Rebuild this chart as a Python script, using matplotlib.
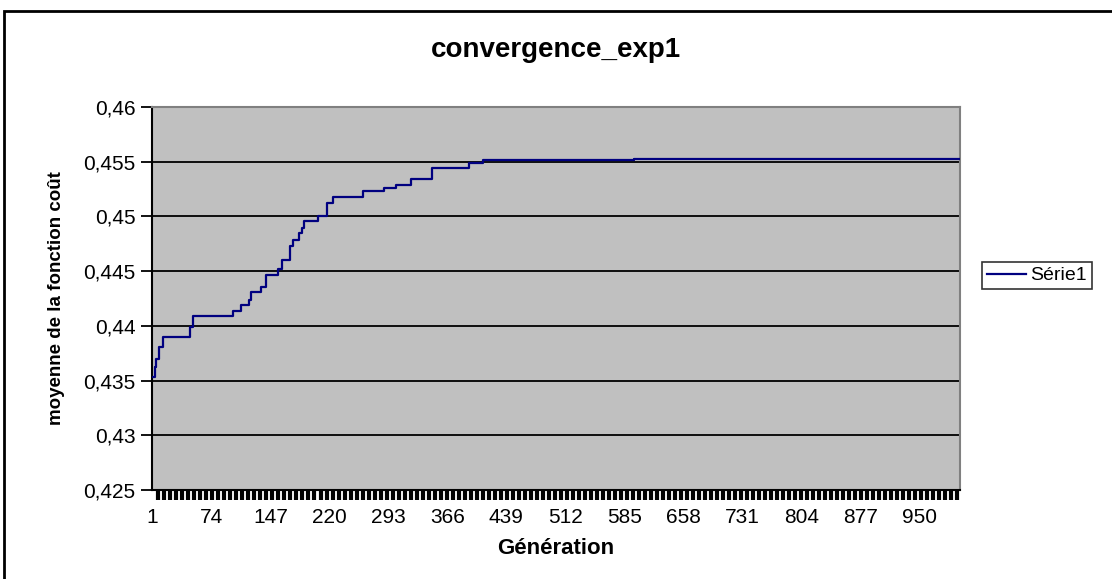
import numpy as np
import matplotlib
matplotlib.use("Agg")
import matplotlib.pyplot as plt
from matplotlib.patches import Rectangle
from matplotlib.ticker import FixedLocator, FuncFormatter

plt.rcParams['font.family'] = ['Liberation Sans', 'DejaVu Sans']

# generation at which the mean cost changes, and the new value
gen_steps = [1, 4, 6, 9, 14, 48, 51, 101, 111, 121, 123, 135, 142, 157, 162,
             171, 175, 182, 186, 189, 206, 217, 225, 262, 288, 302, 321, 347,
             393, 410, 597, 1000]
mean_cost = [0.43532, 0.43621, 0.43697, 0.43804, 0.43895, 0.43994, 0.44088,
             0.44140, 0.44195, 0.44232, 0.44308, 0.44354, 0.44461, 0.44522,
             0.44599, 0.44727, 0.44789, 0.44844, 0.44890, 0.44957, 0.45003,
             0.45125, 0.45182, 0.45234, 0.45257, 0.45284, 0.45340, 0.45441,
             0.45486, 0.45516, 0.45522, 0.45522]
x_labels = [1, 74, 147, 220, 293, 366, 439, 512, 585, 658, 731, 804, 877, 950]
y_ticks = [0.425, 0.43, 0.435, 0.44, 0.445, 0.45, 0.455, 0.46]

fig = plt.figure(figsize=(11.12, 5.79), dpi=100)

# outer chart border (runs off the right and bottom of the image)
fig.patches.append(Rectangle((4 / 1112, -0.05), 1.2, 1 - 11 / 579 + 0.05,
                             transform=fig.transFigure, fill=False,
                             edgecolor='black', linewidth=2))

ax = fig.add_axes([152 / 1112, 1 - 490 / 579, 808 / 1112, 383 / 579])
ax.set_facecolor('#C0C0C0')

ax.plot(gen_steps, mean_cost, drawstyle='steps-post', color='#000080',
        linewidth=1.6, label='Série1', zorder=3)

ax.set_xlim(0.5, 1000.5)
ax.set_ylim(0.425, 0.46)
ax.set_yticks(y_ticks)
ax.yaxis.set_major_formatter(FuncFormatter(
    lambda v, p: ('%g' % round(v, 3)).replace('.', ',')))
ax.grid(axis='y', color='black', linewidth=1.3, zorder=1)
ax.set_axisbelow(True)

# labels on the major ticks, the dense tick marks come from the minor ones
ax.set_xticks(x_labels)
ax.set_xticklabels([str(v) for v in x_labels])
ax.xaxis.set_minor_locator(FixedLocator(np.arange(1, 1001, 7.43)))
ax.tick_params(axis='x', which='minor', direction='out', length=7, width=3,
               color='black')
ax.tick_params(axis='x', which='major', length=0, pad=13)
ax.tick_params(axis='y', direction='out', length=8, width=1.3, pad=4)
ax.tick_params(labelsize=15)

for side in ['top', 'right']:
    ax.spines[side].set_color('#808080')
    ax.spines[side].set_linewidth(1.5)
for side in ['left', 'bottom']:
    ax.spines[side].set_color('black')
    ax.spines[side].set_linewidth(1.5)

ax.set_title('convergence_exp1', fontsize=20, fontweight='bold', pad=36)
ax.set_xlabel('Génération', fontsize=16, fontweight='bold', labelpad=8)
ax.set_ylabel('moyenne de la fonction coût', fontsize=13.5,
              fontweight='bold', labelpad=13)

leg = ax.legend(loc='center left', bbox_to_anchor=(1.027, 0.56), fontsize=14,
                frameon=True, fancybox=False, handlelength=2.0,
                borderpad=0.25, handletextpad=0.25, borderaxespad=0)
leg.get_frame().set_edgecolor('black')
leg.get_frame().set_linewidth(1.2)

plt.savefig('out.png', dpi=100)
